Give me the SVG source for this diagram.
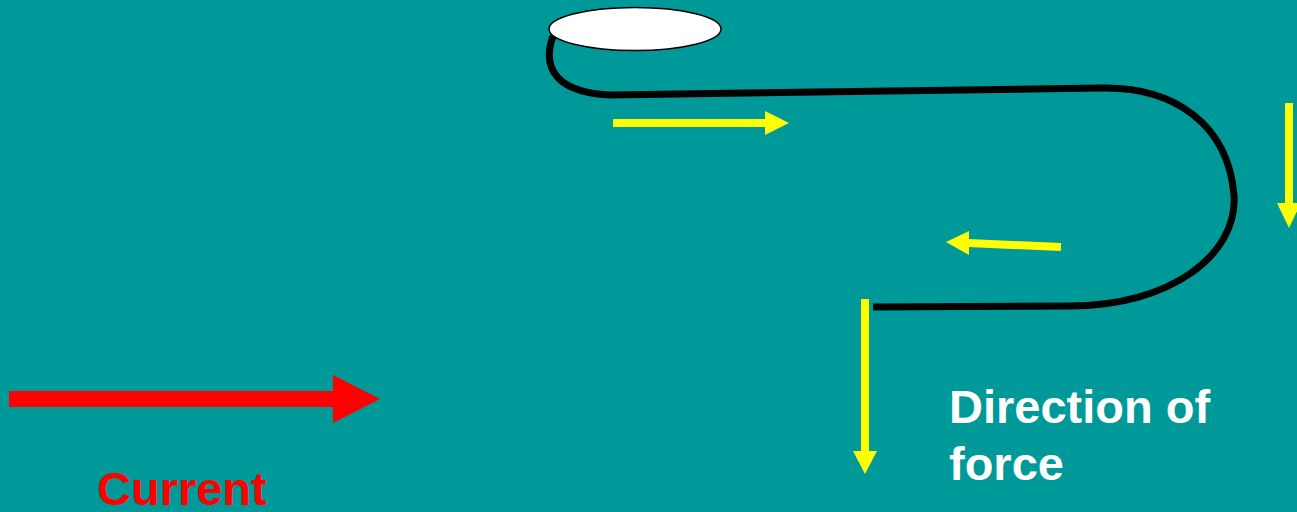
<svg xmlns="http://www.w3.org/2000/svg" width="1297" height="512" viewBox="0 0 1297 512">
<style>
.wire{fill:none;stroke:#000;stroke-width:7;stroke-linecap:butt}
.yl{stroke:#ffff00;stroke-width:8;fill:none}
.yh{fill:#ffff00}
.lbl{font-family:"Liberation Sans",Arial,sans-serif;font-weight:bold;font-size:47px}
</style>
<rect width="1297" height="512" fill="#009999"/>
<g id="connectors">
<path class="wire" d="M553,36 C545,58 545,92 610,95 L1100,88 C1175,86 1228,125 1234,195 C1238,255 1170,306 1070,306 L873,307"/>
<g id="arrow-top">
<line class="yl" x1="613" y1="123" x2="766" y2="123"/>
<polygon class="yh" points="765,111 789,123 765,135"/>
</g>
<g id="arrow-mid">
<line class="yl" x1="1061" y1="247" x2="968" y2="243"/>
<polygon class="yh" points="969,231 946,242 969,255"/>
</g>
<g id="arrow-right">
<line class="yl" x1="1289" y1="103" x2="1289" y2="204"/>
<polygon class="yh" points="1277,203 1301,203 1289,228"/>
</g>
<g id="arrow-force">
<line class="yl" x1="865" y1="299" x2="865" y2="452"/>
<polygon class="yh" points="853,451 877,451 865,474"/>
</g>
<g id="arrow-current">
<rect x="9" y="391" width="325" height="16" fill="#ff0000"/>
<polygon points="333,375 380,399 333,423" fill="#ff0000"/>
</g>
</g>
<g id="node-ellipse">
<ellipse cx="635" cy="29" rx="86" ry="21.5" fill="#fff" stroke="#000" stroke-width="1.5"/>
</g>
<g id="label-current">
<text class="lbl" x="97" y="505" fill="#ff0000">Current</text>
</g>
<g id="label-force">
<text class="lbl" x="949" y="423" fill="#fff">Direction of</text>
<text class="lbl" x="949" y="480" fill="#fff">force</text>
</g>
</svg>
